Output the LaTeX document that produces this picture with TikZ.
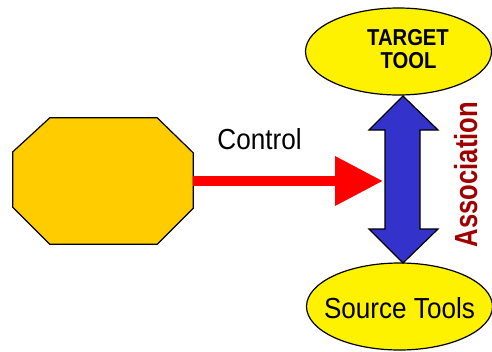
\documentclass[tikz,border=0pt]{standalone}
\usepackage{fontspec}
\setmainfont{Liberation Sans}
\usepackage{graphicx}
\usetikzlibrary{calc,arrows.meta,shapes.geometric}
\definecolor{octgold}{RGB}{255,204,0}
\definecolor{assocblue}{RGB}{51,51,204}
\definecolor{assocred}{RGB}{160,0,0}
\tikzset{tool ellipse/.style={ellipse,draw,line width=1.2pt,fill=yellow,minimum width=186pt,minimum height=87pt,inner sep=0pt}}
\tikzset{block arrow/.style={draw,line width=1.2pt,fill=assocblue,line join=miter}}
\tikzset{control arrow/.style={red,line width=10pt,-{Triangle[length=48pt,width=47pt]}}}

\begin{document}
\begin{tikzpicture}[x=1pt,y=-1pt]
\useasboundingbox (0,0) rectangle (492,351);

% Octagon on the left
\node[minimum width=180pt, minimum height=126pt, inner sep=0pt] (oct) at (103,181) {};
\draw[line width=1.2pt, fill=octgold] ($(oct.north west)+(37,0)$) -- ($(oct.north east)+(-36,0)$)
  -- ($(oct.north east)+(0,35)$) -- ($(oct.south east)+(0,-36)$) -- ($(oct.south east)+(-36,0)$)
  -- ($(oct.south west)+(37,0)$) -- ($(oct.south west)+(0,-37)$) -- ($(oct.north west)+(0,34)$) -- cycle;

% Two tools on the right
\node[tool ellipse] (target) at (398.5,51.5) {};
\node[anchor=base, font=\bfseries\fontsize{23}{23}\selectfont] (t1) at (408,45) {\scalebox{0.88}[1]{TARGET}};
\node[anchor=base, font=\bfseries\fontsize{23}{23}\selectfont] (t2) at (408.5,68) {\scalebox{0.88}[1]{TOOL}};

\node[tool ellipse] (source) at (399.5,306.5) {};
\node[anchor=base, font=\fontsize{29}{29}\selectfont] (s1) at (399.5,318) {\scalebox{0.9}[1]{Source Tools}};

% Control arrow
\coordinate (ctrl tip) at (383,181);
\draw[control arrow] (oct.east) -- (ctrl tip);
\node[anchor=base, font=\fontsize{29}{29}\selectfont] (ctrl) at (259.5,149) {\scalebox{0.9}[1]{Control}};

% Double arrow between the tools
\coordinate (up tip) at (403,96);
\coordinate (down tip) at (403,263);
\draw[block arrow] (up tip) -- ++(35,34) -- ++(-18,0) -- ($(down tip)+(17,-34)$) -- ++(18,0)
  -- (down tip) -- ++(-34,-34) -- ++(16,0) -- ($(up tip)+(-18,34)$) -- ++(-16,0) -- cycle;
\node[anchor=base, rotate=90, text=assocred, font=\bfseries\fontsize{32}{32}\selectfont] (assoc) at (477,174.5) {\scalebox{0.8}[1]{Association}};

\end{tikzpicture}
\end{document}
